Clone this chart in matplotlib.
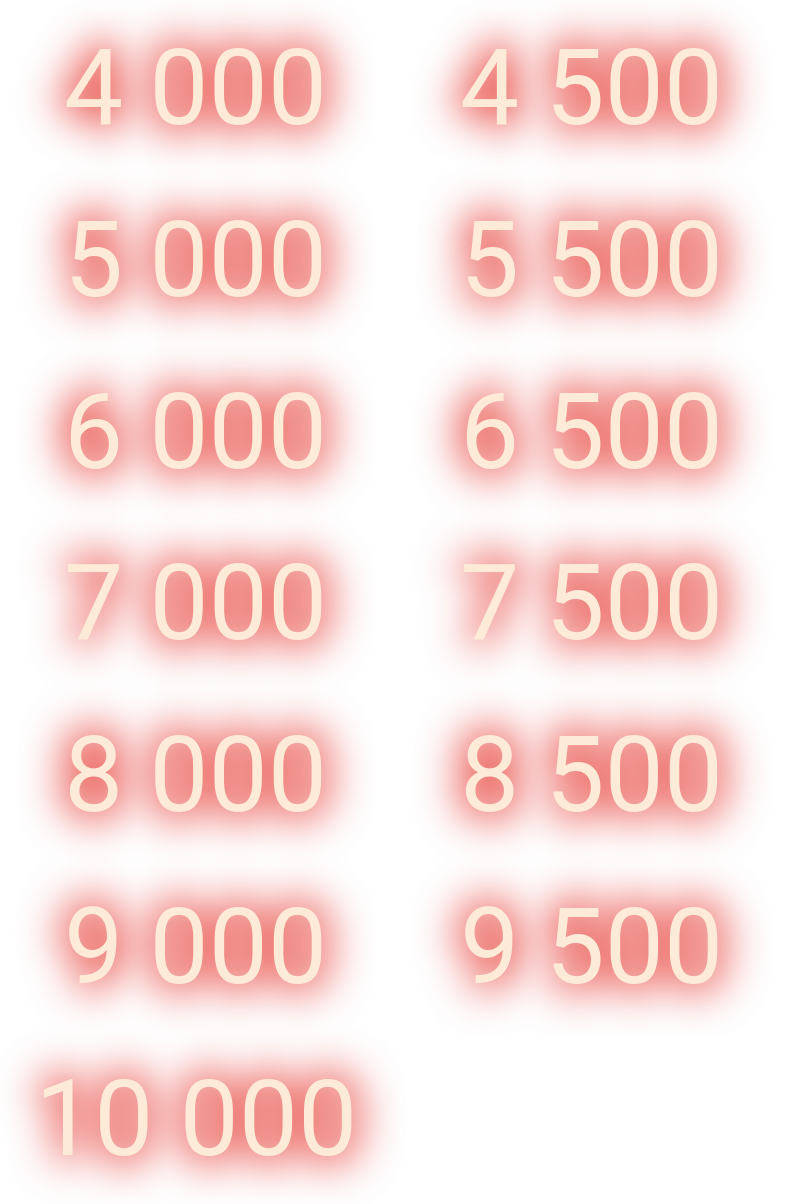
import matplotlib
matplotlib.use('Agg')
import matplotlib.pyplot as plt
from matplotlib.colors import to_rgb
import numpy as np

values = [4000, 4500, 5000, 5500, 6000, 6500, 7000, 7500, 8000, 8500, 9000, 9500, 10000]
labels = ['{:,}'.format(v).replace(',', ' ') for v in values]

W, H = 790, 1204
DPI = 100
text_colour = '#fdebd8'
glow_colour = '#ee7570'
font = dict(family='Roboto', size=76, ha='center', va='baseline')


def positions():
    for i, lab in enumerate(labels):
        col, row = i % 2, i // 2
        x = 196 + col * 396
        y = 124 + row * 171.8
        yield lab, x / W, 1 - y / H


def gauss_blur(a, sigma):
    r = int(3 * sigma)
    k = np.exp(-0.5 * (np.arange(-r, r + 1) / sigma) ** 2)
    k /= k.sum()
    a = np.apply_along_axis(lambda m: np.convolve(m, k, mode='same'), 0, a)
    a = np.apply_along_axis(lambda m: np.convolve(m, k, mode='same'), 1, a)
    return a


# glow: text drawn offscreen, then blurred
mfig = plt.figure(figsize=(W / DPI, H / DPI), dpi=DPI)
mfig.patch.set_alpha(0)
for lab, fx, fy in positions():
    mfig.text(fx, fy, lab, color='k', **font)
mfig.canvas.draw()
mask = np.asarray(mfig.canvas.buffer_rgba())[..., 3].astype(float) / 255
plt.close(mfig)

blur = gauss_blur(mask, 19)
glow = 0.92 * (blur / blur.max()) ** 0.75
rgba = np.zeros((mask.shape[0], mask.shape[1], 4))
rgba[..., :3] = to_rgb(glow_colour)
rgba[..., 3] = glow

fig = plt.figure(figsize=(W / DPI, H / DPI), dpi=DPI)
fig.patch.set_facecolor('white')
ax = fig.add_axes([0, 0, 1, 1])
ax.imshow(rgba, extent=[0, W, H, 0], interpolation='bilinear')
ax.set_xlim(0, W)
ax.set_ylim(H, 0)
ax.axis('off')

for lab, fx, fy in positions():
    fig.text(fx, fy, lab, color=text_colour, **font)

fig.savefig('out.png', dpi=DPI)
